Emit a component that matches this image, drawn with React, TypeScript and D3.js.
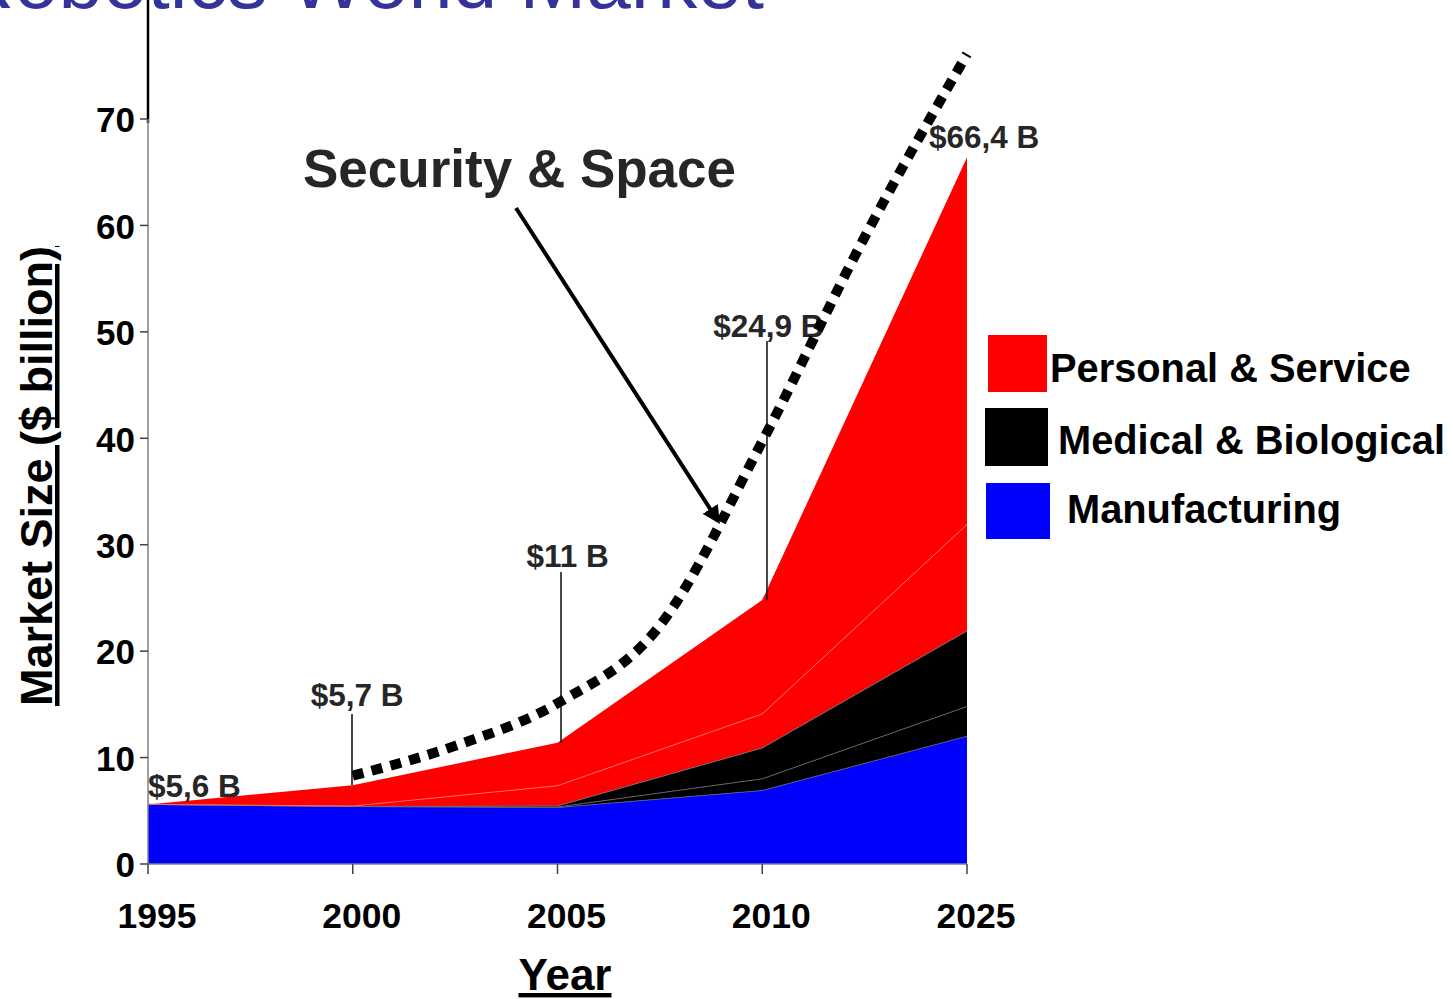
import React from "react";
import * as d3 from "d3";

const years = ["1995", "2000", "2005", "2010", "2025"];
const manufacturing = [5.6, 5.4, 5.3, 6.9, 12.0];
const medicalLow = [0, 0, 0.05, 1.1, 2.8];
const medicalHigh = [0, 0, 0.1, 2.9, 7.1];
const personalLow = [0, 0.05, 1.9, 3.2, 10.0];
const personalHigh = [0, 1.95, 4.05, 10.7, 34.5];
const securityIdx = [1, 1.5, 2, 2.5, 3, 3.5, 4];
const securityVal = [8.3, 11.1, 15.1, 22.4, 39.7, 58.9, 76.1];
const yTicks = [0, 10, 20, 30, 40, 50, 60, 70];
const totalLabels = [
  { i: 0, text: "$5,6 B" },
  { i: 1, text: "$5,7 B" },
  { i: 2, text: "$11 B" },
  { i: 3, text: "$24,9 B" },
  { i: 4, text: "$66,4 B" },
];
const legendItems = ["Personal & Service", "Medical & Biological", "Manufacturing"];

const W = 1453;
const H = 999;
const FONT = "'Liberation Sans', Arial, Helvetica, sans-serif";

export default function App() {
  const x = d3.scaleLinear().domain([0, years.length - 1]).range([148, 967]);
  const y = d3.scaleLinear().domain([0, 70]).range([864, 119]);

  const keys = ["manufacturing", "medicalLow", "medicalHigh", "personalLow", "personalHigh"];
  const table = years.map((yr, i) => ({
    i,
    manufacturing: manufacturing[i],
    medicalLow: medicalLow[i],
    medicalHigh: medicalHigh[i],
    personalLow: personalLow[i],
    personalHigh: personalHigh[i],
  }));
  const series = d3.stack<any>().keys(keys)(table);
  const fills = ["#0000ff", "#000000", "#000000", "#ff0000", "#ff0000"];
  const edgeColors = ["#5a5a8a", "#666666", "#6e6e6e", "#ff6a6a", null];

  const area = d3
    .area<any>()
    .x((d) => x(d.data.i))
    .y0((d) => y(d[0]))
    .y1((d) => y(d[1]));
  const topLine = d3
    .line<any>()
    .x((d) => x(d.data.i))
    .y((d) => y(d[1]));

  const secLine = d3
    .line<number>()
    .x((d, k) => x(securityIdx[k]))
    .y((d) => y(d))
    .curve(d3.curveMonotoneX);

  const totals = years.map((_, i) => series[series.length - 1][i][1]);

  // label offsets (layout)
  const labelPos = [
    { dx: 0, by: 797, line: null },
    { dx: -42, by: 706, line: { x: 352, y1: 714 } },
    { dx: -31, by: 567, line: { x: 561, y1: 572 } },
    { dx: -49, by: 337, line: { x: 767, y1: 341 } },
    { dx: -38, by: 148, line: null },
  ];

  const legendColors = ["#ff0000", "#000000", "#0000ff"];
  const legendRects = [
    { x: 988, y: 335, w: 59, h: 57 },
    { x: 985, y: 408, w: 63, h: 58 },
    { x: 986, y: 483, w: 64, h: 56 },
  ];
  const legendText = [
    { x: 1050, y: 382 },
    { x: 1058, y: 454 },
    { x: 1067, y: 523 },
  ];

  return (
    <svg
      width={W}
      height={H}
      style={{ position: "absolute", left: 0, top: 0, background: "#fff" }}
      fontFamily={FONT}
    >
      <defs>
        <marker
          id="arrowhead"
          viewBox="0 0 10 10"
          refX="8"
          refY="5"
          markerWidth="4.5"
          markerHeight="4.5"
          orient="auto"
          markerUnits="strokeWidth"
        >
          <path d="M0,0 L10,5 L0,10 z" fill="#000" />
        </marker>
      </defs>
      <rect x={0} y={0} width={W} height={H} fill="#fff" />

      {/* title, cut off at the top edge as in the slide */}
      <text x={764} y={8} textAnchor="end" fontSize={80} fill="#333399">
        Robotics World Market
      </text>

      {/* areas */}
      {series.map((s, k) => (
        <path key={k} d={area(s) || ""} fill={fills[k]} />
      ))}
      {series.map((s, k) =>
        edgeColors[k] ? (
          <path key={"e" + k} d={topLine(s) || ""} fill="none" stroke={edgeColors[k] as string} strokeWidth={0.9} />
        ) : null
      )}

      {/* axes */}
      <line x1={148} x2={148} y1={0} y2={123} stroke="#000" strokeWidth={2.5} />
      <line x1={148} x2={148} y1={y(70)} y2={y(0)} stroke="#808080" strokeWidth={1.5} />
      <line x1={148} x2={x(years.length - 1)} y1={y(0)} y2={y(0)} stroke="#808080" strokeWidth={1.5} />
      {yTicks.map((t) => (
        <g key={t}>
          <line x1={140} x2={148} y1={y(t)} y2={y(t)} stroke="#404040" strokeWidth={1.5} />
          <text
            x={135}
            y={y(t)}
            dy="0.38em"
            textAnchor="end"
            fontSize={35}
            fontWeight="bold"
            fill="#000"
          >
            {t}
          </text>
        </g>
      ))}
      {years.map((yr, i) => (
        <g key={yr}>
          <line x1={x(i)} x2={x(i)} y1={y(0)} y2={y(0) + 10} stroke="#404040" strokeWidth={1.5} />
          <text x={x(i) + 9} y={928} textAnchor="middle" fontSize={35.5} fontWeight="bold" fill="#000">
            {yr}
          </text>
        </g>
      ))}

      {/* axis titles */}
      <text
        x={565}
        y={990}
        textAnchor="middle"
        fontSize={44}
        fontWeight="bold"
        textDecoration="underline"
        fill="#000"
      >
        Year
      </text>
      <text
        transform="translate(52,476) rotate(-90)"
        textAnchor="middle"
        fontSize={45}
        fontWeight="bold"
        textDecoration="underline"
        fill="#000"
      >
        Market Size ($ billion)
      </text>

      {/* leader lines and totals */}
      {totalLabels.map((l, k) => {
        const p = labelPos[k];
        return (
          <g key={l.text}>
            {p.line && (
              <line
                x1={p.line.x}
                x2={p.line.x}
                y1={p.line.y1}
                y2={y(totals[l.i])}
                stroke="#1a1a1a"
                strokeWidth={1.6}
              />
            )}
            <text x={x(l.i) + p.dx} y={p.by} fontSize={31.5} fontWeight="bold" fill="#262626">
              {l.text}
            </text>
          </g>
        );
      })}

      {/* security & space dotted projection */}
      <path
        d={secLine(securityVal) || ""}
        fill="none"
        stroke="#000"
        strokeWidth={10}
        strokeDasharray="11 8.5"
      />

      <text x={303} y={187} fontSize={53} fontWeight="bold" fill="#262626">
        Security &amp; Space
      </text>
      <line
        x1={516}
        y1={208}
        x2={718}
        y2={521}
        stroke="#000"
        strokeWidth={4}
        markerEnd="url(#arrowhead)"
      />

      {/* legend */}
      {legendItems.map((name, k) => (
        <g key={name}>
          <rect
            x={legendRects[k].x}
            y={legendRects[k].y}
            width={legendRects[k].w}
            height={legendRects[k].h}
            fill={legendColors[k]}
          />
          <text x={legendText[k].x} y={legendText[k].y} fontSize={39.8} fontWeight="bold" fill="#000">
            {name}
          </text>
        </g>
      ))}
    </svg>
  );
}
